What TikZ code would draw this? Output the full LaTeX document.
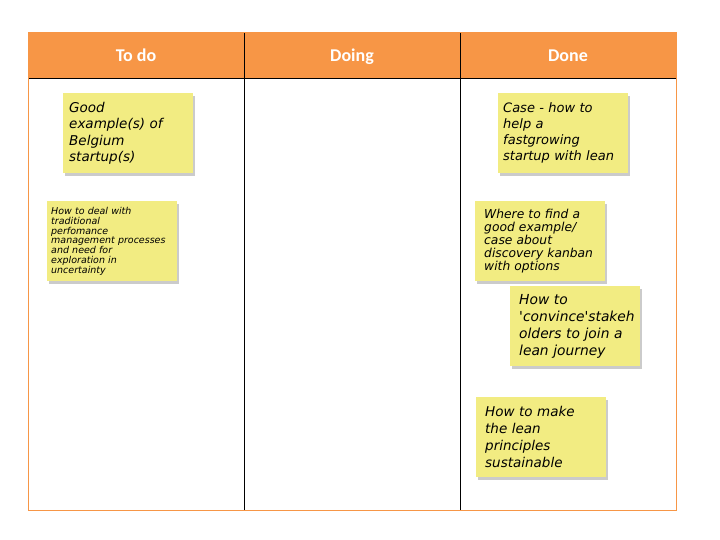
\documentclass[tikz,border=0pt]{standalone}
\usepackage{fontspec}
\setmainfont{Carlito}
\newfontfamily\handfont{DejaVu Sans}
\usetikzlibrary{shadows}
\definecolor{headorange}{RGB}{247,150,70}
\definecolor{noteyellow}{RGB}{242,236,130}
\tikzset{
    sticky/.style={rectangle, fill=noteyellow, anchor=north west,
        minimum width=130pt, minimum height=80pt, inner xsep=6pt, inner ysep=0pt,
        text width=118pt,
        drop shadow={shadow xshift=2pt, shadow yshift=-3pt, fill=black!40},
        align=left},
    colhead/.style={text=white, anchor=base, font=\bfseries\fontsize{18}{20}\selectfont},
    hand/.style 2 args={font=\handfont\itshape\fontsize{#1}{#2}\selectfont}
}
\begin{document}
\begin{tikzpicture}[x=1pt,y=-1pt]
    \useasboundingbox (0,0) rectangle (720,540);
    \fill[white] (0,0) rectangle (720,540);
    % board
    \fill[headorange] (28,33) rectangle (676,78);
    \draw[thin] (28,78) -- (676,78);
    \draw[thin] (244,33) -- (244,510);
    \draw[thin] (460,33) -- (460,510);
    \draw[headorange, line width=1pt] (28,33) rectangle (676,510);
    \node (todo) [colhead] at (136,62) {To do};
    \node (doing) [colhead] at (352,62) {Doing};
    \node (done) [colhead] at (568,62) {Done};
    % notes
    \begin{scope}[every node/.style={sticky}]
        \node (belgium) [hand={13.5}{16.5}] at (63,93)
            {Good\\example(s) of\\Belgium\\startup(s)};
        \node (perform) [hand={9.5}{9.8}, text width=122pt, inner xsep=4pt] at (47,201)
            {How to deal with\\traditional\\perfomance\\management processes\\and need for\\exploration in\\uncertainty};
        \node (fastgrow) [hand={13}{16}, inner xsep=5pt, text width=120pt] at (498,93)
            {Case - how to\\help a\\fastgrowing\\startup with lean};
        \node (kanban) [hand={12.3}{12.8}, inner xsep=9pt, text width=112pt] at (475,201)
            {Where to find a\\good example/\\case about\\discovery kanban\\with options};
        \node (convince) [hand={13.8}{17}, inner xsep=9pt, text width=112pt] at (510,286)
            {How to\\'convince'stakeh\\olders to join a\\lean journey};
        \node (sustain) [hand={13.5}{17}, inner xsep=9pt, text width=112pt] at (476,397)
            {How to make\\the lean\\principles\\sustainable};
    \end{scope}
\end{tikzpicture}
\end{document}
